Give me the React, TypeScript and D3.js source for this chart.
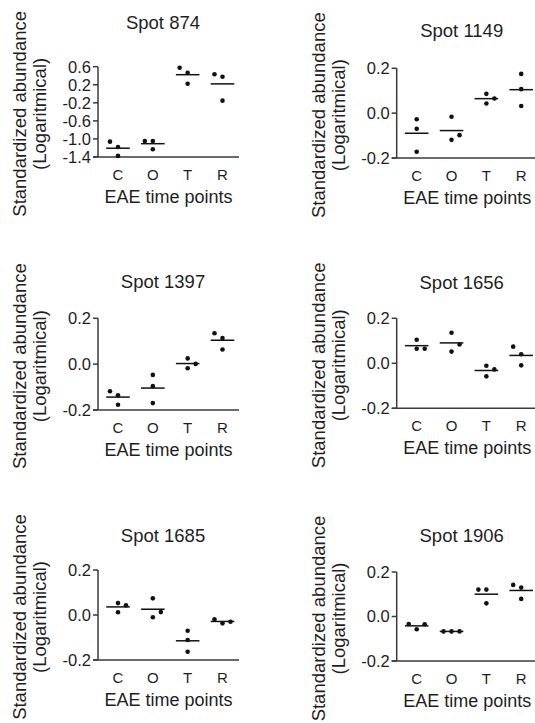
import React from "react";
import * as d3 from "d3";

// ---------- data ----------
const categories = ["C", "O", "T", "R"];
const spotTitles = ["Spot 874", "Spot 1149", "Spot 1397", "Spot 1656", "Spot 1685", "Spot 1906"];

const spot874 = [
  [-1.06, -1.18, -1.376],
  [-1.044, -1.044, -1.227],
  [0.578, 0.467, 0.224],
  [0.432, 0.379, -0.152],
];
const spot1149 = [
  [-0.027, -0.07, -0.172],
  [-0.016, -0.098, -0.119],
  [0.086, 0.065, 0.043],
  [0.175, 0.107, 0.032],
];
const spot1397 = [
  [-0.118, -0.136, -0.177],
  [-0.047, -0.096, -0.17],
  [0.025, 0.001, -0.018],
  [0.135, 0.114, 0.064],
];
const spot1656 = [
  [0.105, 0.065, 0.065],
  [0.136, 0.084, 0.052],
  [-0.011, -0.027, -0.058],
  [0.074, 0.04, -0.009],
];
const spot1685 = [
  [0.053, 0.043, 0.012],
  [0.074, 0.013, -0.01],
  [-0.07, -0.111, -0.163],
  [-0.019, -0.03, -0.037],
];
const spot1906 = [
  [-0.034, -0.035, -0.057],
  [-0.067, -0.067, -0.067],
  [0.121, 0.121, 0.059],
  [0.142, 0.13, 0.079],
];

const ticks874 = [0.6, 0.2, -0.2, -0.6, -1.0, -1.4];
const ticksSmall = [0.2, 0.0, -0.2];

const spotValues = [spot874, spot1149, spot1397, spot1656, spot1685, spot1906];
const spotTicks = [ticks874, ticksSmall, ticksSmall, ticksSmall, ticksSmall, ticksSmall];

// ---------- layout ----------
const layout = [
  { ax: 98, top: 66.7, bottom: 157, titleDy: -37.4 },
  { ax: 396.7, top: 68.3, bottom: 158, titleDy: -31 },
  { ax: 98, top: 318.3, bottom: 410, titleDy: -30 },
  { ax: 396.7, top: 318.3, bottom: 408.3, titleDy: -29 },
  { ax: 98, top: 570, bottom: 660, titleDy: -28.3 },
  { ax: 396.7, top: 572, bottom: 661, titleDy: -30.3 },
];

const FONT = "'Liberation Sans', Arial, Helvetica, sans-serif";
const TEXT = "#1e1e1e";
const AXIS = "#3a3a3a";

function spreadSlots(values: number[], y: (v: number) => number, thr = 8) {
  const idx = values.map((_, i) => i).sort((a, b) => values[a] - values[b]);
  const placed: { y: number; slot: number }[] = [];
  const slots = new Array(values.length).fill(0);
  idx.forEach((i, k) => {
    const py = y(values[i]);
    const side = k % 2 === 1 ? 1 : -1;
    const cands = [0, side, -side, 2 * side, -2 * side];
    for (const s of cands) {
      if (!placed.some((p) => p.slot === s && Math.abs(p.y - py) < thr)) {
        slots[i] = s;
        break;
      }
    }
    placed.push({ y: py, slot: slots[i] });
  });
  return slots;
}

function Panel({ idx }: { idx: number }) {
  const L = layout[idx];
  const values = spotValues[idx];
  const ticks = spotTicks[idx];
  const dom = d3.extent(ticks) as [number, number];
  const y = d3.scaleLinear().domain(dom).range([L.bottom, L.top]);
  const x = d3.scalePoint<string>().domain(categories).range([L.ax + 20, L.ax + 124.5]);
  const xEnd = L.ax + 141;
  const midY = (L.top + L.bottom) / 2 + 2;
  const fmt = d3.format(".1f");

  return (
    <g>
      <text x={L.ax + 65} y={L.top + L.titleDy} textAnchor="middle" fontSize={18.5} fill={TEXT} fontFamily={FONT}>
        {spotTitles[idx]}
      </text>
      {/* y label */}
      <text
        transform={`translate(${L.ax - 72},${midY}) rotate(-90)`}
        textAnchor="middle"
        fontSize={18.5}
        fill={TEXT}
        fontFamily={FONT}
      >
        Standardized abundance
      </text>
      <text
        transform={`translate(${L.ax - 52},${midY}) rotate(-90)`}
        textAnchor="middle"
        fontSize={18.5}
        fill={TEXT}
        fontFamily={FONT}
      >
        (Logaritmical)
      </text>
      {/* axes */}
      <line x1={L.ax} x2={L.ax} y1={y(dom[1])} y2={y(dom[0])} stroke={AXIS} strokeWidth={1.5} />
      <line x1={L.ax - 5} x2={xEnd} y1={y(dom[0])} y2={y(dom[0])} stroke={AXIS} strokeWidth={1.5} />
      {ticks.map((t) => (
        <g key={t}>
          <line x1={L.ax - 5} x2={L.ax} y1={y(t)} y2={y(t)} stroke={AXIS} strokeWidth={1.5} />
          <text
            x={L.ax - 7}
            y={y(t)}
            dy="0.36em"
            textAnchor="end"
            fontSize={16.5}
            fill={TEXT}
            fontFamily={FONT}
          >
            {fmt(t).replace("−", "-")}
          </text>
        </g>
      ))}
      {categories.map((c, ci) => {
        const vals = values[ci];
        const slots = spreadSlots(vals, (v) => y(v));
        const cx = x(c) as number;
        const mean = d3.mean(vals) as number;
        return (
          <g key={c}>
            <text x={cx} y={L.bottom + 23} textAnchor="middle" fontSize={15} fill={TEXT} fontFamily={FONT}>
              {c}
            </text>
            <line x1={cx - 11.8} x2={cx + 11.8} y1={y(mean)} y2={y(mean)} stroke="#111" strokeWidth={1.5} />
            {vals.map((v, vi) => (
              <circle key={vi} cx={cx + slots[vi] * 8} cy={y(v)} r={2.3} fill="#111" />
            ))}
          </g>
        );
      })}
      <text x={L.ax + 70.5} y={L.bottom + 46} textAnchor="middle" fontSize={18} fill={TEXT} fontFamily={FONT}>
        EAE time points
      </text>
    </g>
  );
}

export default function App() {
  return (
    <svg
      width={535}
      height={723}
      style={{ position: "absolute", left: 0, top: 0, background: "#fff" }}
    >
      <rect width={535} height={723} fill="#fff" />
      {spotTitles.map((_, i) => (
        <Panel key={i} idx={i} />
      ))}
    </svg>
  );
}
